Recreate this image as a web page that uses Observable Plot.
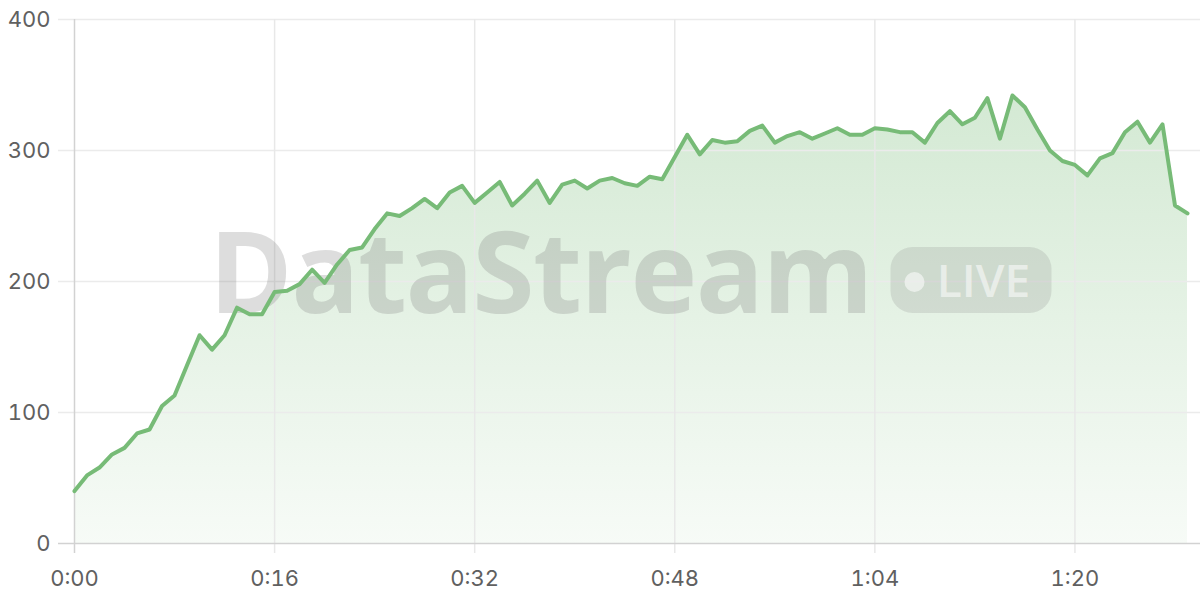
<!DOCTYPE html>
<html>
<head>
<meta charset="utf-8">
<script src="https://cdn.jsdelivr.net/npm/d3@7"></script>
<script src="https://cdn.jsdelivr.net/npm/@observablehq/plot@0.6"></script>
<style>
  html, body { margin: 0; padding: 0; background: #fff; }
  #chart svg { display: block; }
</style>
</head>
<body>
<div id="chart"></div>
<script>
// elapsed seconds (one sample per second)
const seconds = d3.range(0, 90);
// values
const values = [
  40, 52, 58, 68, 73, 84, 87, 105, 113, 136,
  159, 148, 159, 180, 175, 175, 192, 193, 198, 209,
  199, 213, 224, 226, 240, 252, 250, 256, 263, 256,
  268, 273, 260, 268, 276, 258, 267, 277, 260, 274,
  277, 271, 277, 279, 275, 273, 280, 278, 295, 312,
  297, 308, 306, 307, 315, 319, 306, 311, 314, 309,
  313, 317, 312, 312, 317, 316, 314, 314, 306, 321,
  330, 320, 325, 340, 309, 342, 333, 316, 300, 292,
  289, 281, 294, 298, 314, 322, 306, 320, 258, 252
];
const xTicks = [0, 16, 32, 48, 64, 80];
const yTicks = [0, 100, 200, 300, 400];
const watermarkText = "DataStream";
const badgeText = "LIVE";

const data = seconds.map((s, i) => ({t: s, v: values[i]}));
const fmt = d => `${Math.floor(d / 60)}:${String(d % 60).padStart(2, "0")}`;

const lineColor = "#77bb77";

const chart = Plot.plot({
  width: 1200,
  height: 600,
  marginLeft: 74,
  marginRight: 13,
  marginTop: 19,
  marginBottom: 57,
  style: {fontFamily: "Inter, 'Noto Sans', sans-serif", fontSize: "22px", color: "#666", background: "#fff"},
  x: {domain: [0, 89], ticks: xTicks, tickFormat: fmt},
  y: {domain: [0, 400], ticks: yTicks},
  marks: [
    Plot.areaY(data, {x: "t", y: "v", fill: "url(#areaGrad)", curve: "linear"}),
    Plot.ruleY(yTicks.filter(d => d > 0), {stroke: "#ebebeb", strokeWidth: 1.5, insetLeft: -16, insetRight: -13}),
    Plot.ruleX(xTicks.filter(d => d > 0), {stroke: "#e8e8e8", strokeWidth: 1.5, insetBottom: -10}),
    Plot.ruleY([0], {stroke: "#d2d2d2", strokeWidth: 1.5, insetLeft: -16, insetRight: -13}),
    Plot.ruleX([0], {stroke: "#d2d2d2", strokeWidth: 1.5, insetBottom: -10}),
    Plot.axisY({ticks: yTicks, tickSize: 0, tickPadding: 24, fontSize: 22, fill: "#606060", label: null}),
    Plot.axisX({ticks: xTicks, tickFormat: fmt, tickSize: 0, tickPadding: 27, fontSize: 22, fill: "#606060", label: null}),
    Plot.lineY(data, {x: "t", y: "v", stroke: lineColor, strokeWidth: 4, curve: "linear", strokeLinejoin: "round"})
  ]
});

// gradient for the area
const svg = d3.select(chart);
const defs = svg.insert("defs", ":first-child");
const grad = defs.append("linearGradient").attr("id", "areaGrad")
  .attr("x1", 0).attr("y1", 0).attr("x2", 0).attr("y2", 1);
grad.append("stop").attr("offset", "0%").attr("stop-color", lineColor).attr("stop-opacity", 0.32);
grad.append("stop").attr("offset", "100%").attr("stop-color", lineColor).attr("stop-opacity", 0.06);

// watermark, centred on the frame, drawn beneath the line
const cx = (74 + 1187) / 2, cy = (19 + 543) / 2;
const lineGroup = svg.selectAll("g[aria-label='line']").node();
const wm = svg.insert("g", () => lineGroup).attr("aria-label", "watermark");
wm.append("text")
  .attr("x", cx - 90).attr("y", cy + 32)
  .attr("text-anchor", "middle")
  .attr("font-family", "'Open Sans', sans-serif").attr("font-weight", 700)
  .attr("font-size", 113).attr("letter-spacing", -1.5)
  .attr("fill", "#808080").attr("fill-opacity", 0.27)
  .text(watermarkText);
wm.append("rect")
  .attr("x", cx + 260).attr("y", cy - 34).attr("width", 161).attr("height", 66)
  .attr("rx", 22).attr("fill", "#808080").attr("fill-opacity", 0.2);
wm.append("circle")
  .attr("cx", cx + 284).attr("cy", cy + 1).attr("r", 10)
  .attr("fill", "#fff").attr("fill-opacity", 0.55);
wm.append("text")
  .attr("x", cx + 353).attr("y", cy + 16)
  .attr("text-anchor", "middle")
  .attr("font-family", "'Open Sans', sans-serif").attr("font-weight", 600)
  .attr("font-size", 46)
  .attr("fill", "#fff").attr("fill-opacity", 0.55)
  .text(badgeText);

document.getElementById("chart").append(chart);
</script>
</body>
</html>
